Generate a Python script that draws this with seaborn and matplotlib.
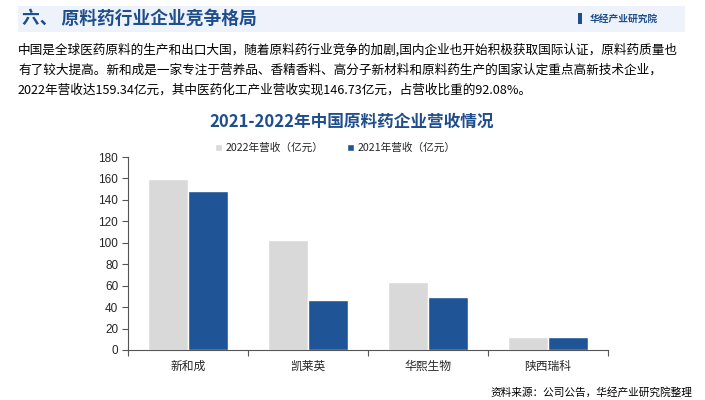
import matplotlib
matplotlib.use("Agg")
import matplotlib.pyplot as plt
import seaborn as sns
import pandas as pd
from matplotlib.patches import Rectangle

companies = ["新和成", "凯莱英", "华熙生物", "陕西瑞科"]
rev_2022 = [159.34, 102.47, 63.59, 12.1]
rev_2021 = [148.43, 46.44, 49.48, 12.3]
series_names = ["2022年营收（亿元）", "2021年营收（亿元）"]
y_ticks = [0, 20, 40, 60, 80, 100, 120, 140, 160, 180]

header_title = "六、 原料药行业企业竞争格局"
brand = "华经产业研究院"
body_lines = [
    "中国是全球医药原料的生产和出口大国，随着原料药行业竞争的加剧,国内企业也开始积极获取国际认证，原料药质量也",
    "有了较大提高。新和成是一家专注于营养品、香精香料、高分子新材料和原料药生产的国家认定重点高新技术企业，",
    "2022年营收达159.34亿元，其中医药化工产业营收实现146.73亿元，占营收比重的92.08%。",
]
chart_title = "2021-2022年中国原料药企业营收情况"
source = "资料来源：公司公告，华经产业研究院整理"

sns.set_theme(style="white")
plt.rcParams['font.family'] = ['Liberation Sans', 'Noto Sans CJK SC', 'DejaVu Sans']

df = pd.DataFrame({
    "company": companies * 2,
    "series": [series_names[0]] * len(companies) + [series_names[1]] * len(companies),
    "value": rev_2022 + rev_2021,
})

fig = plt.figure(figsize=(7.05, 4.0), dpi=100)
fig.patch.set_facecolor("white")

# header band
fig.patches.append(Rectangle((18 / 705, 1 - 32 / 400), 667 / 705, 26 / 400,
                             transform=fig.transFigure, facecolor="#EEF3FB",
                             edgecolor="none", zorder=0))
fig.text(22 / 705, 1 - 19 / 400, header_title, fontsize=12.8, fontweight="bold",
         color="#1F4E8C", va="center", ha="left", family=['Noto Sans CJK SC'])
fig.patches.append(Rectangle((578 / 705, 1 - 24 / 400), 4 / 705, 11 / 400,
                             transform=fig.transFigure, facecolor="#1F4E8C",
                             edgecolor="none"))
fig.text(590 / 705, 1 - 18.5 / 400, brand, fontsize=7, fontweight="bold",
         color="#1F4E8C", va="center", ha="left", family=['Noto Sans CJK SC'])

for i, line in enumerate(body_lines):
    fig.text(18 / 705, 1 - (50 + 20 * i) / 400, line, fontsize=9.1, color="black",
             va="center", ha="left", family=['Noto Sans CJK SC', 'DejaVu Sans'])

fig.text(352 / 705, 1 - 122 / 400, chart_title, fontsize=12, fontweight="bold",
         color="#1F4E8C", va="center", ha="center", family=['Noto Sans CJK SC'])

ax = fig.add_axes([128 / 705, 1 - 350 / 400, 480 / 705, 193 / 400])
sns.barplot(data=df, x="company", y="value", hue="series",
            palette=["#D9D9D9", "#1F5596"], width=0.67, saturation=1,
            ax=ax, legend=True)

ax.set_ylim(0, 180)
ax.set_yticks(y_ticks)
ax.set_xlim(-0.5, len(companies) - 0.5)
ax.set_xlabel("")
ax.set_ylabel("")
ax.tick_params(axis="y", labelsize=8.5, length=4, width=0.8, color="#555555",
               left=True, pad=3)
ax.tick_params(axis="x", which="major", length=0, labelsize=8.5, pad=8)
ax.set_xticks([i - 0.5 for i in range(len(companies) + 1)], minor=True)
ax.tick_params(axis="x", which="minor", length=4, width=0.8, color="#555555", bottom=True)
for s in ["top", "right"]:
    ax.spines[s].set_visible(False)
for s in ["left", "bottom"]:
    ax.spines[s].set_color("#555555")
    ax.spines[s].set_linewidth(0.8)
ax.grid(False)

handles, labels = ax.get_legend_handles_labels()
ax.legend(handles, labels, ncol=2, frameon=False, loc="center",
          bbox_to_anchor=(335 / 705, 1 - 148 / 400), bbox_transform=fig.transFigure,
          handlelength=0.65, handleheight=0.65, handletextpad=0.35, columnspacing=2.2,
          prop={'family': ['Noto Sans CJK SC'], 'size': 7.7})

fig.text(692 / 705, 1 - 392 / 400, source, fontsize=7.7, color="black",
         va="center", ha="right", family=['Noto Sans CJK SC'])

fig.savefig("out.png", dpi=100)
